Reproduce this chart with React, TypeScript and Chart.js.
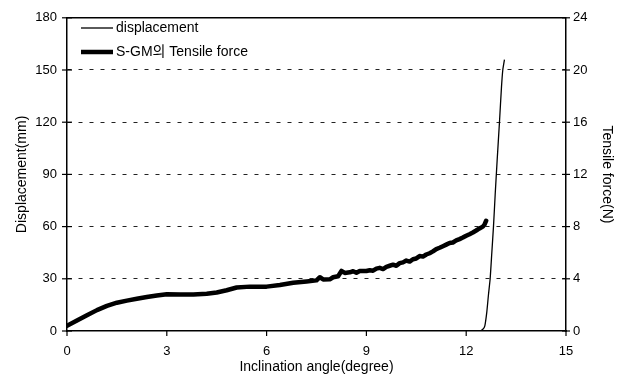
import React, { useEffect, useRef } from "react";
import { Chart, registerables } from "chart.js";

Chart.register(...registerables);

// Inclination angle (degree) for the displacement curve
const dispAngle = [0, 12.4, 12.5, 12.56, 12.62, 12.67, 12.72, 12.77, 12.82, 12.87, 12.93, 13.0, 13.06, 13.1, 13.15];
// Displacement (mm)
const dispValue = [0, 0, 1, 3, 11, 21, 30, 45, 60, 78, 98, 120, 140, 150, 156];

// Inclination angle (degree) for the tensile-force curve
const forceAngle = [
  0, 0.3, 0.6, 0.9, 1.2, 1.5, 1.8, 2.1, 2.4, 2.7, 3.0, 3.4, 3.8, 4.2, 4.5, 4.8, 5.1, 5.5, 6.0, 6.4, 6.8,
  7.2, 7.5, 7.6, 7.7, 7.9, 8.0, 8.15, 8.25, 8.35, 8.5, 8.6, 8.7, 8.8, 9.0, 9.1, 9.2, 9.3, 9.4, 9.5, 9.6,
  9.7, 9.8, 9.9, 10.0, 10.1, 10.2, 10.3, 10.4, 10.5, 10.6, 10.7, 10.8, 10.9, 11.0, 11.1, 11.2, 11.3, 11.4,
  11.5, 11.6, 11.7, 11.8, 11.9, 12.0, 12.1, 12.2, 12.3, 12.4, 12.5, 12.55, 12.6,
];
// S-GM tensile force (N)
const forceValue = [
  0.4, 0.8, 1.2, 1.6, 1.92, 2.17, 2.33, 2.47, 2.6, 2.72, 2.82, 2.8, 2.79, 2.86, 2.95, 3.12, 3.33, 3.4, 3.4,
  3.52, 3.7, 3.8, 3.88, 4.12, 3.95, 3.96, 4.12, 4.2, 4.6, 4.45, 4.5, 4.58, 4.46, 4.6, 4.6, 4.66, 4.62, 4.78,
  4.84, 4.75, 4.92, 5.0, 5.08, 5.0, 5.2, 5.26, 5.4, 5.32, 5.5, 5.56, 5.74, 5.7, 5.86, 5.96, 6.1, 6.28, 6.38,
  6.5, 6.62, 6.74, 6.78, 6.94, 7.04, 7.16, 7.3, 7.42, 7.55, 7.7, 7.86, 8.0, 8.15, 8.45,
];

const xTicks = [0, 3, 6, 9, 12, 15];
const leftTicks = [0, 30, 60, 90, 120, 150, 180];
const rightTicks = [0, 4, 8, 12, 16, 20, 24];

const seriesLabels = ["displacement", "S-GM의 Tensile force"];
const axisTitles = { x: "Inclination angle(degree)", y: "Displacement(mm)", y1: "Tensile force(N)" };

const FONT = "'Liberation Sans', Arial, 'Noto Sans CJK KR', sans-serif";

const framePlugin = {
  id: "frame",
  afterDatasetsDraw(chart: any) {
    const { ctx, chartArea } = chart;
    const { left, right, top, bottom } = chartArea;
    ctx.save();
    ctx.strokeStyle = "#000";
    ctx.lineWidth = 1.5;
    // top border
    ctx.beginPath();
    ctx.moveTo(left, top);
    ctx.lineTo(right, top);
    ctx.stroke();
    ctx.lineWidth = 1.2;
    // tick marks
    const y = chart.scales.y;
    y.ticks.forEach((t: any) => {
      const p = y.getPixelForValue(t.value);
      ctx.beginPath();
      ctx.moveTo(left - 5, p);
      ctx.lineTo(left + 5, p);
      ctx.stroke();
    });
    const y1 = chart.scales.y1;
    y1.ticks.forEach((t: any) => {
      const p = y1.getPixelForValue(t.value);
      ctx.beginPath();
      ctx.moveTo(right - 4, p);
      ctx.lineTo(right + 4, p);
      ctx.stroke();
    });
    const x = chart.scales.x;
    x.ticks.forEach((t: any) => {
      const p = x.getPixelForValue(t.value);
      ctx.beginPath();
      ctx.moveTo(p, bottom - 1);
      ctx.lineTo(p, bottom + 5);
      ctx.stroke();
    });
    // legend
    ctx.font = `14px ${FONT}`;
    ctx.fillStyle = "#000";
    ctx.textBaseline = "middle";
    ctx.textAlign = "left";
    const rows = [28, 52];
    chart.data.datasets.forEach((ds: any, i: number) => {
      const yy = rows[i];
      ctx.lineWidth = ds.borderWidth;
      ctx.lineCap = "butt";
      ctx.beginPath();
      ctx.moveTo(left + 14, yy);
      ctx.lineTo(left + 46, yy);
      ctx.stroke();
      ctx.fillText(ds.label, left + 49, yy);
    });
    ctx.restore();
  },
};

export default function App() {
  const ref = useRef<HTMLCanvasElement>(null);
  useEffect(() => {
    document.body.style.margin = "0";
    const disp = dispAngle.map((a, i) => ({ x: a, y: dispValue[i] }));
    const force = forceAngle.map((a, i) => ({ x: a, y: forceValue[i] }));
    const chart = new Chart(ref.current!, {
      type: "line",
      data: {
        datasets: [
          {
            label: seriesLabels[0],
            data: disp,
            yAxisID: "y",
            borderColor: "#000",
            borderWidth: 1.3,
            pointRadius: 0,
            tension: 0.2,
          },
          {
            label: seriesLabels[1],
            data: force,
            yAxisID: "y1",
            borderColor: "#000",
            borderWidth: 4.5,
            pointRadius: 0,
            tension: 0,
            borderJoinStyle: "round",
            borderCapStyle: "round",
          },
        ],
      },
      options: {
        animation: false,
        responsive: true,
        maintainAspectRatio: false,
        layout: { padding: { top: 14, left: 0, right: 0, bottom: 0 } },
        plugins: { legend: { display: false }, tooltip: { enabled: false } },
        scales: {
          x: {
            type: "linear",
            min: 0,
            max: 15,
            afterBuildTicks: (s: any) => {
              s.ticks = xTicks.map((v) => ({ value: v }));
            },
            afterFit: (s: any) => {
              s.height = 50;
            },
            grid: { display: false, drawTicks: false },
            border: { display: true, color: "#000", width: 1.5 },
            ticks: { color: "#000", font: { size: 13, family: FONT }, padding: 13, maxRotation: 0 },
            title: {
              display: true,
              text: axisTitles.x,
              color: "#000",
              font: { size: 14, family: FONT },
              padding: { top: 0, bottom: 5.5 },
            },
          },
          y: {
            type: "linear",
            position: "left",
            min: 0,
            max: 180,
            afterBuildTicks: (s: any) => {
              s.ticks = leftTicks.map((v) => ({ value: v }));
            },
            afterFit: (s: any) => {
              s.width = 67;
            },
            grid: {
              drawTicks: false,
              color: (c: any) => (c.tick && c.tick.value > 0 && c.tick.value < 180 ? "#222" : "rgba(0,0,0,0)"),
              borderDash: [4, 7],
              lineWidth: 1,
            } as any,
            border: { display: true, color: "#000", width: 1.5, dash: [4, 7] } as any,
            ticks: { color: "#000", font: { size: 13, family: FONT }, padding: 10 },
            title: {
              display: true,
              text: axisTitles.y,
              color: "#000",
              font: { size: 14, family: FONT },
              padding: { top: 13.5, bottom: 0 },
            },
          },
          y1: {
            type: "linear",
            position: "right",
            min: 0,
            max: 24,
            afterBuildTicks: (s: any) => {
              s.ticks = rightTicks.map((v) => ({ value: v }));
            },
            afterFit: (s: any) => {
              s.width = 53;
            },
            grid: { display: false, drawTicks: false },
            border: { display: true, color: "#000", width: 1.5 },
            ticks: { color: "#000", font: { size: 13, family: FONT }, padding: 7 },
            title: {
              display: true,
              text: axisTitles.y1,
              color: "#000",
              font: { size: 14, family: FONT },
              padding: { top: 3.5, bottom: 0 },
            },
          },
        },
      },
      plugins: [framePlugin],
    } as any);
    return () => chart.destroy();
  }, []);
  return (
    <div style={{ width: 619, height: 381, position: "relative", background: "#fff" }}>
      <canvas ref={ref} />
    </div>
  );
}
